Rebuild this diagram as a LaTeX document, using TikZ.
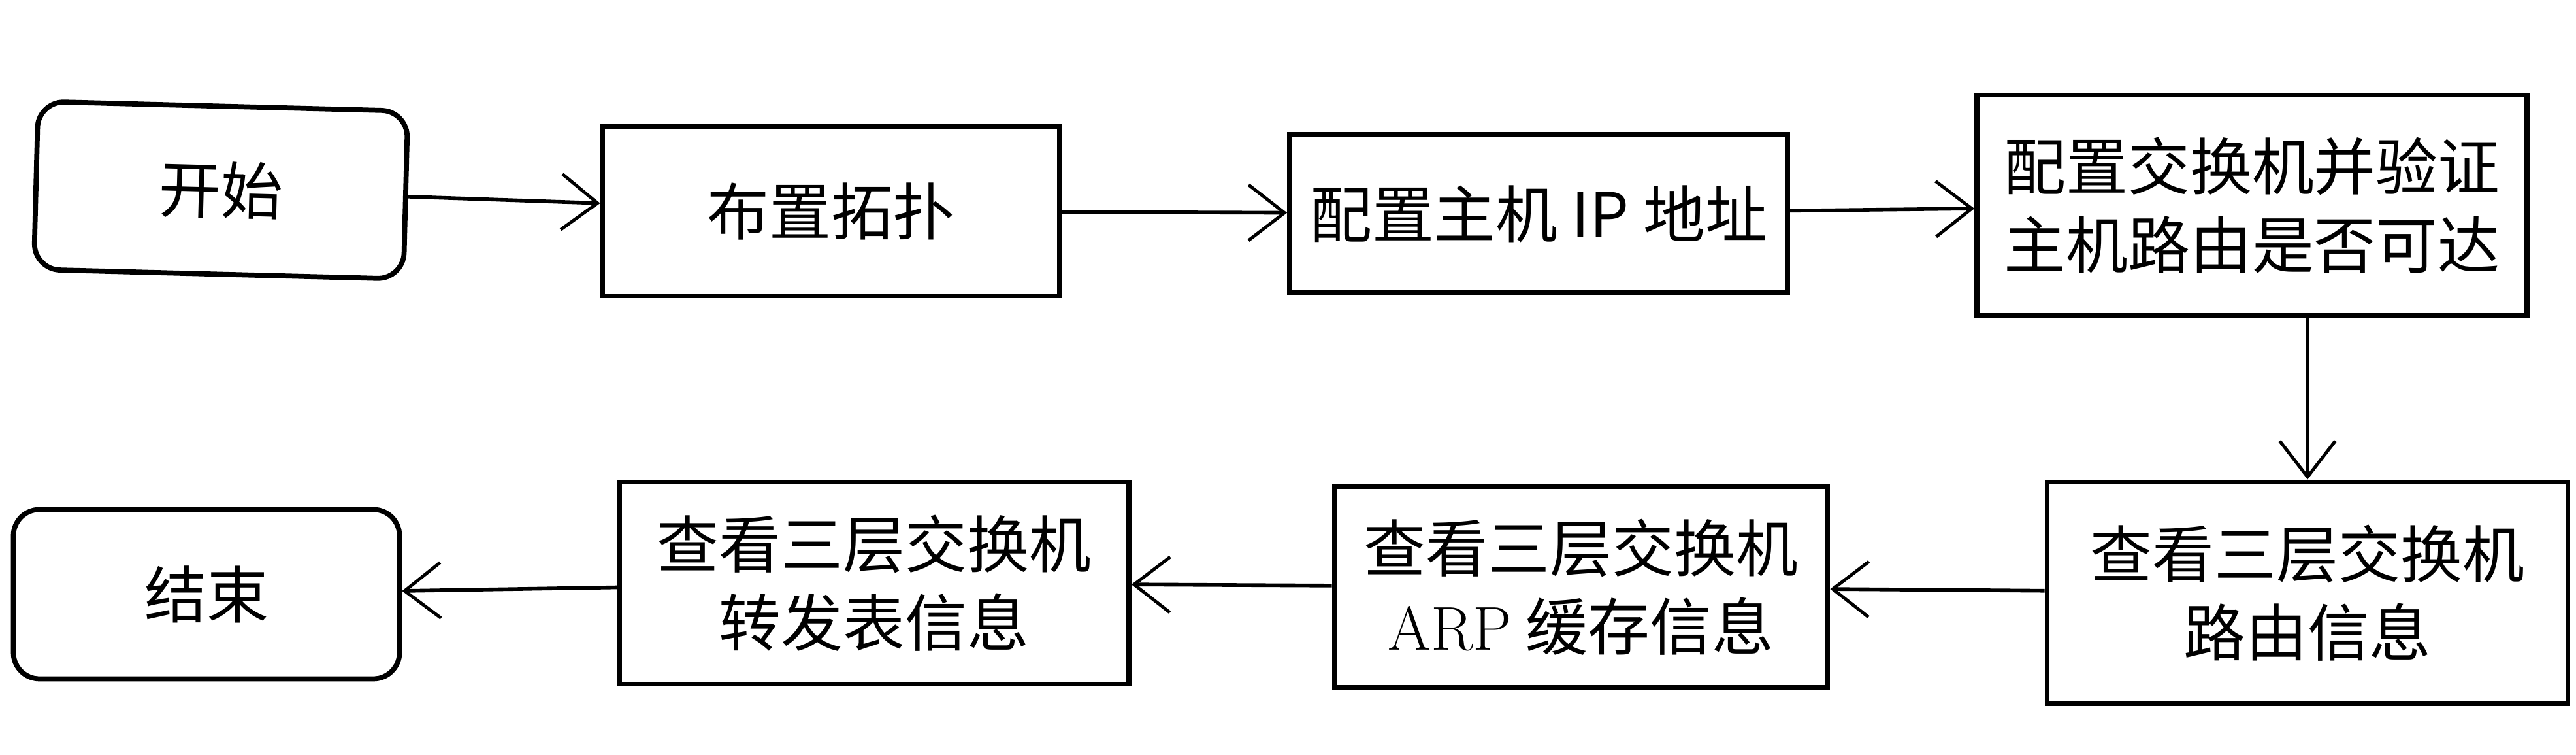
\documentclass[tikz,border=0pt]{standalone}
\usepackage{fontspec}
\newfontfamily\cjk{Noto Sans CJK SC}
\usetikzlibrary{arrows.meta}
\begin{document}
\begin{tikzpicture}[
  box/.style={draw,line width=2.2pt,align=center,inner sep=0pt,
    font=\cjk\fontsize{27}{34}\selectfont},
  term/.style={box,rounded corners=0.4cm},
  flow/.style={line width=1.6pt,-{Straight Barb[length=0.55cm,width=0.85cm,line width=1.4pt]}}]
\useasboundingbox (0,0) rectangle (39.43,11.55);
\node [term,minimum width=5.66cm,minimum height=2.57cm,rotate=-1.5] (start) at (3.38,8.64) {开始};
\node [box,minimum width=6.99cm,minimum height=2.59cm] (layout) at (12.72,8.32) {布置拓扑};
\node [box,minimum width=7.62cm,minimum height=2.42cm] (hostip) at (23.55,8.28) {配置主机 IP 地址};
\node [box,minimum width=8.42cm,minimum height=3.37cm] (config) at (34.47,8.41) {配置交换机并验证\\主机路由是否可达};
\node [box,minimum width=7.97cm,minimum height=3.39cm] (route) at (35.32,2.48) {查看三层交换机\\路由信息};
\node [box,minimum width=7.55cm,minimum height=3.07cm] (arp) at (24.20,2.57) {查看三层交换机\\{\rmfamily ARP} 缓存信息};
\node [box,minimum width=7.80cm,minimum height=3.09cm] (fib) at (13.38,2.63) {查看三层交换机\\转发表信息};
\node [term,minimum width=5.91cm,minimum height=2.59cm] (stop) at (3.16,2.46) {结束};
\draw [flow] (start) -- (layout);
\draw [flow] (layout) -- (hostip);
\draw [flow] (hostip) -- (config);
\draw [flow,line width=1.1pt] (route.north |- config.south) -- (route.north);
\draw [flow] (route) -- (arp);
\draw [flow] (arp) -- (fib);
\draw [flow] (fib) -- (stop);
\end{tikzpicture}
\end{document}
